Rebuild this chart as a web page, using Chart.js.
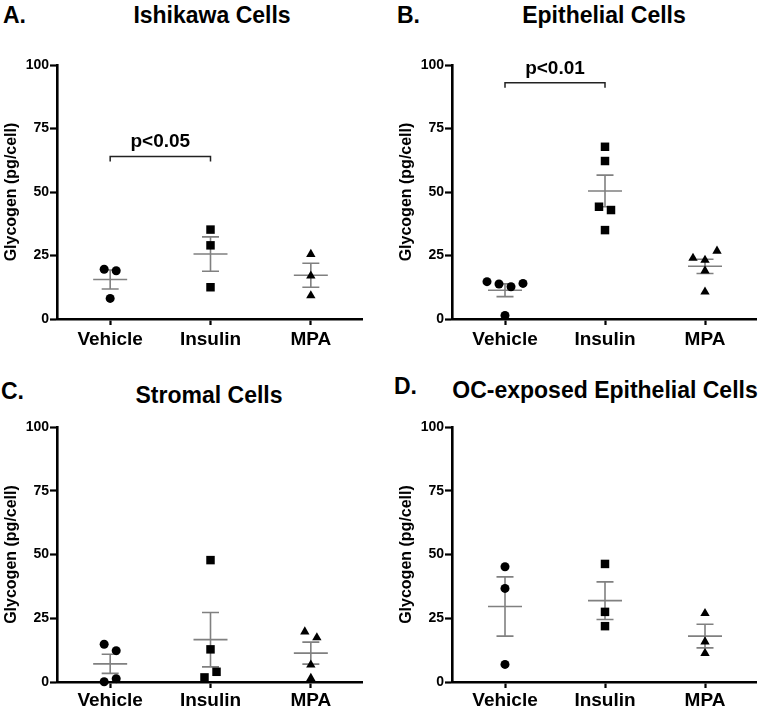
<!DOCTYPE html>
<html>
<head>
<meta charset="utf-8">
<script src="https://cdn.jsdelivr.net/npm/chart.js@4"></script>
<style>
body { margin: 0; background: #fff; }
#page { position: relative; width: 762px; height: 710px; overflow: hidden;
  font-family: "Liberation Sans", Arial, sans-serif; font-weight: bold; color: #000; }
canvas { position: absolute; }
.lbl { position: absolute; font-size: 23px; line-height: 23px; white-space: nowrap; }
.ttl { position: absolute; font-size: 23px; line-height: 23px; width: 340px; text-align: center; white-space: nowrap; }
</style>
</head>
<body>
<div id="page">
  <div class="lbl" style="left:3px;top:4px">A.</div>
  <div class="ttl" style="left:42px;top:4px">Ishikawa Cells</div>
  <div class="lbl" style="left:397px;top:4px">B.</div>
  <div class="ttl" style="left:434px;top:4px">Epithelial Cells</div>
  <div class="lbl" style="left:1px;top:380px">C.</div>
  <div class="ttl" style="left:39px;top:384px">Stromal Cells</div>
  <div class="lbl" style="left:394px;top:375px">D.</div>
  <div class="ttl" style="left:435px;top:379px">OC-exposed Epithelial Cells</div>

  <canvas id="chartA" width="381" height="352" style="left:0;top:0"></canvas>
  <canvas id="chartB" width="381" height="352" style="left:381px;top:0"></canvas>
  <canvas id="chartC" width="381" height="358" style="left:0;top:352px"></canvas>
  <canvas id="chartD" width="381" height="358" style="left:381px;top:352px"></canvas>
</div>

<script>
// groups on the x axis and y ticks (same for all four panels)
var groups = ['Vehicle', 'Insulin', 'MPA'];
var yTicks = [0, 25, 50, 75, 100];
var yTitle = 'Glycogen (pg/cell)';

// glycogen values, pg/cell
var ishikawaVehicle = [19.0, 19.6, 8.1];
var ishikawaInsulin = [35.2, 29.0, 12.5];
var ishikawaMPA = [25.5, 17.0, 9.2];

var epithelialVehicle = [12.7, 13.8, 14.0, 14.7, 1.4];
var epithelialInsulin = [67.8, 62.2, 42.9, 44.2, 35.0];
var epithelialMPA = [23.2, 24.0, 26.8, 19.0, 10.7];

var stromalVehicle = [12.3, 14.8, 1.3, 0.1];
var stromalInsulin = [47.8, 12.8, 4.0, 1.8];
var stromalMPA = [17.4, 19.7, 6.7, 1.5];

var ocVehicle = [45.2, 36.7, 6.9];
var ocInsulin = [46.3, 27.5, 21.9];
var ocMPA = [26.9, 15.8, 11.3];

// significance brackets: [label, from group, to group, y value]
var ishikawaSig = ['p<0.05', 0, 1, 64];
var epithelialSig = ['p<0.01', 0, 1, 93];

var markers = ['circle', 'rect', 'triangle'];
var markerSize = [4.5, 6, 5.4];

Chart.defaults.font.family = '"Liberation Sans", Arial, sans-serif';
Chart.defaults.font.weight = 'bold';
Chart.defaults.color = '#000';

// spread points that would overlap sideways, like a scatter dot plot
function spread(values, index) {
  var STEP = 0.12, GAP = 4;
  var placed = [];
  values.forEach(function (v) {
    var off = 0;
    var cands = [0, -1, 1, -2, 2, -3, 3];
    for (var c = 0; c < cands.length; c++) {
      off = cands[c] * STEP;
      var hit = placed.some(function (p) {
        return Math.abs(p.y - v) < GAP && Math.abs(p.off - off) < STEP * 0.9;
      });
      if (!hit) break;
    }
    placed.push({ y: v, off: off });
  });
  // centre every cluster on the group
  var order = placed.map(function (p, i) { return i; })
    .sort(function (a, b) { return placed[a].y - placed[b].y; });
  var cluster = [order[0]];
  function flush() {
    var offs = cluster.map(function (i) { return placed[i].off; });
    var mid = (Math.min.apply(null, offs) + Math.max.apply(null, offs)) / 2;
    cluster.forEach(function (i) { placed[i].off -= mid; });
  }
  for (var j = 1; j < order.length; j++) {
    if (placed[order[j]].y - placed[order[j - 1]].y < GAP) cluster.push(order[j]);
    else { flush(); cluster = [order[j]]; }
  }
  flush();
  return placed.map(function (p) { return { x: index + p.off, y: p.y }; });
}

// mean and SEM bars in grey
var semPlugin = {
  id: 'sem',
  beforeDatasetsDraw: function (chart) {
    var ctx = chart.ctx, x = chart.scales.x, y = chart.scales.y;
    ctx.save();
    ctx.strokeStyle = '#808080';
    ctx.lineWidth = 1.6;
    chart.data.datasets.forEach(function (ds, i) {
      var vals = ds.data.map(function (p) { return p.y; });
      var n = vals.length;
      var m = vals.reduce(function (a, b) { return a + b; }, 0) / n;
      var sd = Math.sqrt(vals.reduce(function (a, b) { return a + (b - m) * (b - m); }, 0) / (n - 1));
      var se = sd / Math.sqrt(n);
      var cx = x.getPixelForValue(i);
      var ym = y.getPixelForValue(m), yt = y.getPixelForValue(m + se), yb = y.getPixelForValue(m - se);
      ctx.beginPath();
      ctx.moveTo(cx - 17, ym); ctx.lineTo(cx + 17, ym);
      ctx.moveTo(cx - 8.5, yt); ctx.lineTo(cx + 8.5, yt);
      ctx.moveTo(cx - 8.5, yb); ctx.lineTo(cx + 8.5, yb);
      ctx.moveTo(cx, yt); ctx.lineTo(cx, yb);
      ctx.stroke();
    });
    ctx.restore();
  }
};

function sigPlugin(sig) {
  return {
    id: 'sig',
    afterDatasetsDraw: function (chart) {
      if (!sig) return;
      var ctx = chart.ctx, x = chart.scales.x, y = chart.scales.y;
      var x1 = x.getPixelForValue(sig[1]), x2 = x.getPixelForValue(sig[2]);
      var yy = y.getPixelForValue(sig[3]);
      ctx.save();
      ctx.strokeStyle = '#222';
      ctx.lineWidth = 1.5;
      ctx.beginPath();
      ctx.moveTo(x1, yy + 5); ctx.lineTo(x1, yy); ctx.lineTo(x2, yy); ctx.lineTo(x2, yy + 5);
      ctx.stroke();
      ctx.fillStyle = '#000';
      ctx.font = 'bold 19px "Liberation Sans", Arial, sans-serif';
      ctx.textAlign = 'center';
      ctx.textBaseline = 'alphabetic';
      ctx.fillText(sig[0], (x1 + x2) / 2, yy - 9);
      ctx.restore();
    }
  };
}

function makePanel(id, series, sig, box) {
  var datasets = series.map(function (vals, i) {
    return {
      label: groups[i],
      data: spread(vals, i),
      pointStyle: markers[i],
      pointRadius: markerSize[i],
      backgroundColor: '#000',
      borderColor: '#000',
      borderWidth: 0,
      clip: false
    };
  });

  new Chart(document.getElementById(id), {
    type: 'scatter',
    data: { datasets: datasets },
    plugins: [semPlugin, sigPlugin(sig)],
    options: {
      responsive: false,
      animation: false,
      events: [],
      layout: { padding: { top: box.top, right: box.right, left: 0, bottom: 0 } },
      plugins: { legend: { display: false }, tooltip: { enabled: false } },
      scales: {
        x: {
          type: 'linear',
          min: -0.53,
          max: 2.51,
          afterBuildTicks: function (s) { s.ticks = groups.map(function (g, i) { return { value: i }; }); },
          afterFit: function (s) { s.height = box.xh; },
          ticks: {
            font: { size: 19, weight: 'bold' },
            color: '#000',
            padding: box.labelPad,
            maxRotation: 0,
            autoSkip: false,
            callback: function (v) { return groups[v]; }
          },
          grid: { drawOnChartArea: false, tickLength: 6, tickColor: '#000', tickWidth: 2.2 },
          border: { color: '#000', width: 2.6 }
        },
        y: {
          min: 0,
          max: 100,
          afterBuildTicks: function (s) { s.ticks = yTicks.map(function (v) { return { value: v }; }); },
          afterFit: function (s) { s.width = box.left; },
          ticks: { font: { size: 14, weight: 'bold' }, color: '#000', padding: 1 },
          grid: { drawOnChartArea: false, tickLength: 7, tickColor: '#000', tickWidth: 2.2 },
          border: { color: '#000', width: 2.6 },
          title: {
            display: true,
            text: yTitle,
            font: { size: 16, weight: 'bold' },
            color: '#000',
            padding: { top: box.titlePad, bottom: 0 }
          }
        }
      }
    }
  });
}

makePanel('chartA', [ishikawaVehicle, ishikawaInsulin, ishikawaMPA], ishikawaSig,
  { left: 57, top: 65, right: 19, xh: 33, titlePad: 2, labelPad: 3 });
makePanel('chartB', [epithelialVehicle, epithelialInsulin, epithelialMPA], epithelialSig,
  { left: 71, top: 65, right: 3, xh: 33, titlePad: 16, labelPad: 3 });
makePanel('chartC', [stromalVehicle, stromalInsulin, stromalMPA], null,
  { left: 57, top: 75, right: 19, xh: 28, titlePad: 2, labelPad: 1 });
makePanel('chartD', [ocVehicle, ocInsulin, ocMPA], null,
  { left: 71, top: 75, right: 3, xh: 28, titlePad: 16, labelPad: 1 });
</script>
</body>
</html>
